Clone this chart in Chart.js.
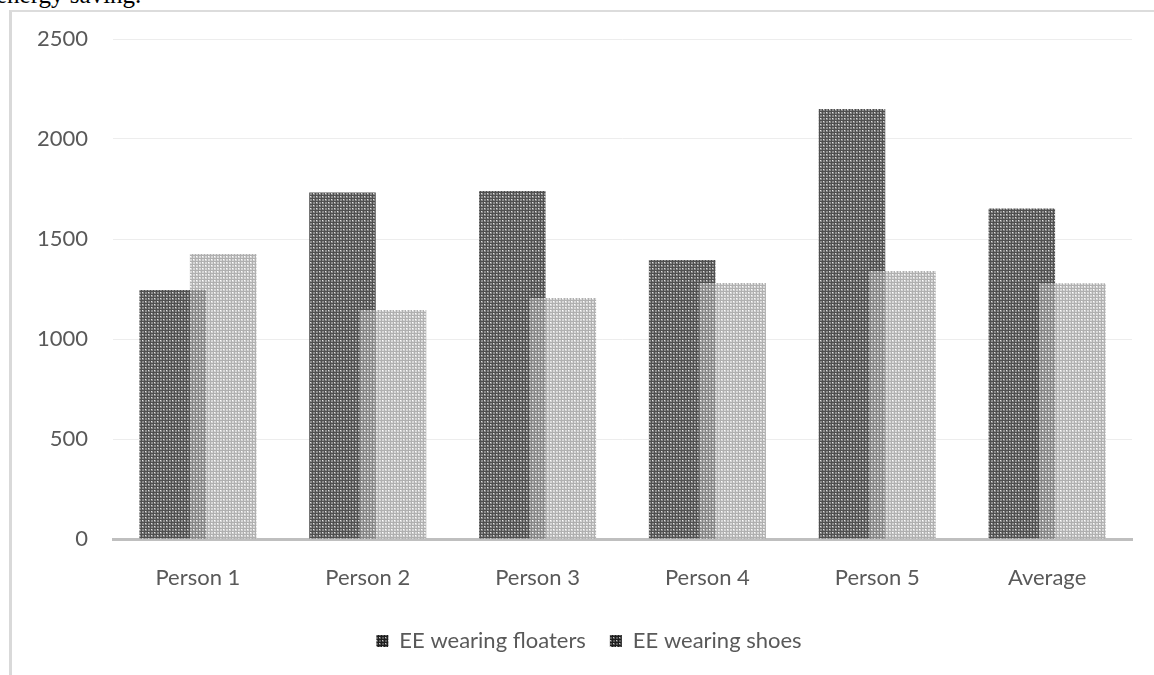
<!DOCTYPE html>
<html>
<head>
<meta charset="utf-8">
<script src="https://cdn.jsdelivr.net/npm/chart.js@4.4.0/dist/chart.umd.min.js"></script>
<style>
  html, body { margin: 0; padding: 0; background: #fff; overflow: hidden; }
  body { width: 1154px; height: 675px; position: relative; }
  .caption { position: absolute; left: -4px; top: -17px; font: 25px/24px "Liberation Serif", "Times New Roman", serif; color: #000; white-space: nowrap; }
  .frame { position: absolute; left: 9px; top: 10px; width: 1200px; height: 700px; border-top: 2px solid #dcdcdc; border-left: 3px solid #d9d9d9; }
  #chart { position: absolute; left: 0; top: 0; }
</style>
</head>
<body>
<div class="caption">energy saving.</div>
<div class="frame"></div>
<canvas id="chart" width="1154" height="675"></canvas>
<script>
const categories = ['Person 1', 'Person 2', 'Person 3', 'Person 4', 'Person 5', 'Average']
const floaters = [1245, 1732, 1740, 1395, 2150, 1652]
const shoes = [1425, 1145, 1205, 1280, 1340, 1279]
const yTicks = [0, 500, 1000, 1500, 2000, 2500]
const seriesNames = ['EE wearing floaters', 'EE wearing shoes']

const textColor = '#595959'
const tickFont = { family: 'Lato', size: 22 }

// small tiled fills, like the office "grid" pattern fills
function makePattern(base, line, dot) {
  const c = document.createElement('canvas')
  c.width = 6
  c.height = 6
  const g = c.getContext('2d')
  g.fillStyle = base
  g.fillRect(0, 0, 6, 6)
  g.clearRect(0, 0, 6, 1); g.clearRect(0, 3, 6, 1); g.clearRect(0, 0, 1, 6); g.clearRect(3, 0, 1, 6)
  g.fillStyle = line
  g.fillRect(0, 0, 6, 1); g.fillRect(0, 3, 6, 1)
  g.fillRect(0, 1, 1, 2); g.fillRect(0, 4, 1, 2); g.fillRect(3, 1, 1, 2); g.fillRect(3, 4, 1, 2)
  g.clearRect(1, 1, 1, 1); g.clearRect(4, 4, 1, 1)
  g.fillStyle = dot
  g.fillRect(1, 1, 1, 1); g.fillRect(4, 4, 1, 1)
  return g.createPattern(c, 'repeat')
}

const darkFill = makePattern('#8c8c8c', '#4f4f4f', '#e2e2e2')
const lightFill = makePattern('rgba(200,200,200,0.7)', 'rgba(150,150,150,0.75)', 'rgba(255,255,255,0.7)')
const legendFill = makePattern('#5a5a5a', '#1e1e1e', '#c8c8c8')

// shoes bars are painted over the floaters bars where they overlap
const drawInOrder = {
  id: 'drawInOrder',
  beforeDatasetsDraw(chart) {
    chart.getSortedVisibleDatasetMetas()
      .sort((a, b) => a.index - b.index)
      .forEach(meta => meta.controller.draw())
    return false
  }
}

// legend sits a bit right of the canvas centre in the original
const legendShift = {
  id: 'legendShift',
  afterLayout(chart) {
    chart.legend.left += 23
    chart.legend.right += 23
  }
}

new Chart(document.getElementById('chart'), {
  type: 'bar',
  data: {
    labels: categories,
    datasets: [
      { label: seriesNames[0], data: floaters, backgroundColor: darkFill, borderWidth: 0 },
      { label: seriesNames[1], data: shoes, backgroundColor: lightFill, borderWidth: 0 }
    ]
  },
  options: {
    responsive: false,
    animation: false,
    devicePixelRatio: 1,
    categoryPercentage: 0.595,
    barPercentage: 1.317,
    layout: { padding: { left: 0, right: 22, top: 39, bottom: 13 } },
    plugins: {
      tooltip: { enabled: false },
      legend: {
        position: 'bottom',
        labels: {
          font: tickFont,
          color: textColor,
          boxWidth: 12,
          boxHeight: 12,
          padding: 24,
          generateLabels: chart => chart.data.datasets.map((ds, i) => ({
            text: ds.label,
            fillStyle: legendFill,
            strokeStyle: 'rgba(0,0,0,0)',
            lineWidth: 0,
            fontColor: textColor,
            datasetIndex: i
          }))
        }
      }
    },
    scales: {
      x: {
        grid: { display: false, drawTicks: false },
        border: { display: true, color: '#bfbfbf', width: 3 },
        ticks: { font: tickFont, color: textColor, padding: 26 },
        afterFit: s => { s.height = 67 }
      },
      y: {
        min: yTicks[0],
        max: yTicks[yTicks.length - 1],
        afterBuildTicks: s => { s.ticks = yTicks.map(v => ({ value: v })) },
        grid: { color: '#ededed', lineWidth: 1, drawTicks: false },
        border: { display: false },
        ticks: { font: tickFont, color: textColor, padding: 25, callback: v => String(v) },
        afterFit: s => { s.width = 113 }
      }
    }
  },
  plugins: [drawInOrder, legendShift]
})
</script>
</body>
</html>
